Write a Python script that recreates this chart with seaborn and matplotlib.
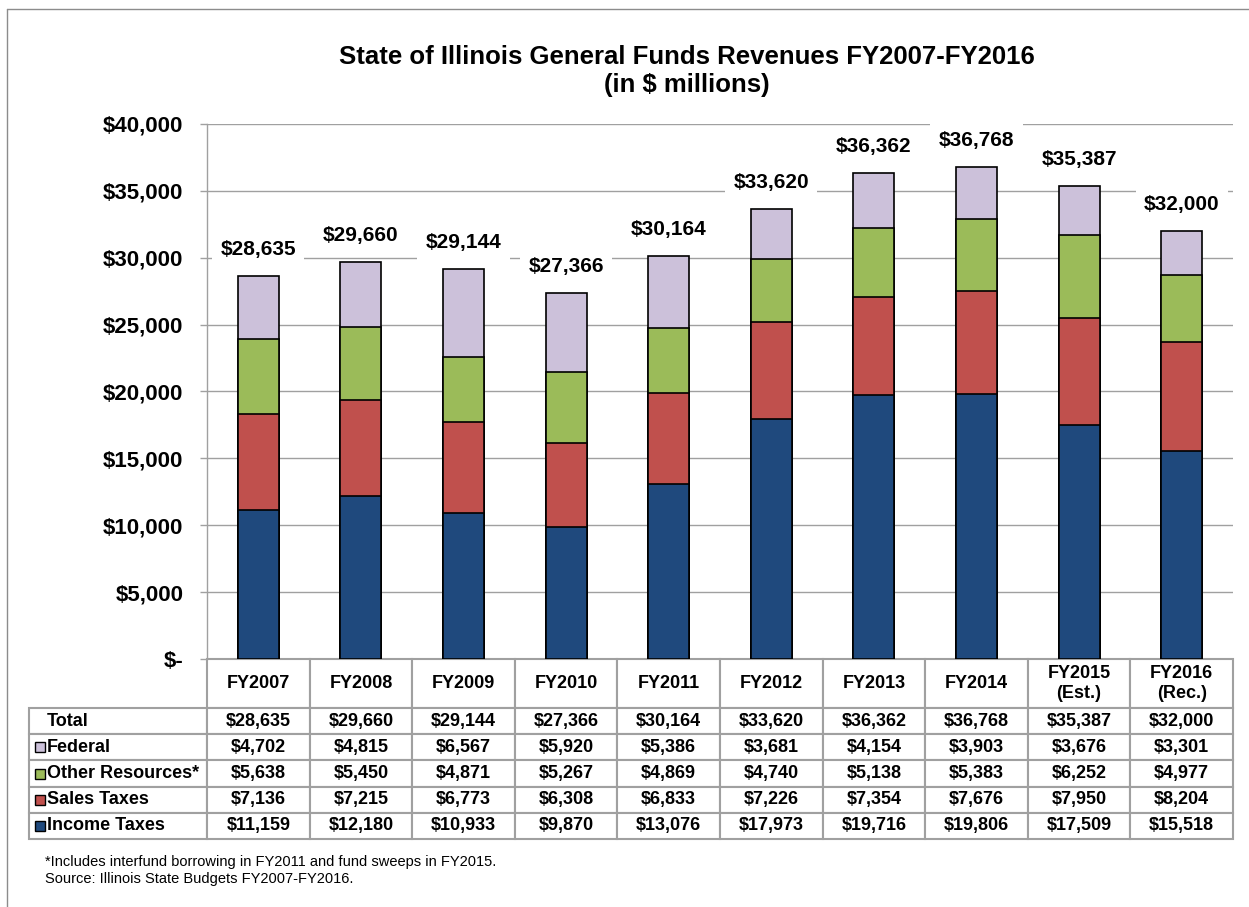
import matplotlib
matplotlib.use("Agg")
import numpy as np
import matplotlib.pyplot as plt
import seaborn as sns
from matplotlib.patches import Rectangle
from matplotlib.lines import Line2D
from matplotlib.ticker import FuncFormatter

# Data (in $ millions)
years = ["FY2007", "FY2008", "FY2009", "FY2010", "FY2011", "FY2012",
         "FY2013", "FY2014", "FY2015\n(Est.)", "FY2016\n(Rec.)"]
income_taxes = [11159, 12180, 10933, 9870, 13076, 17973, 19716, 19806, 17509, 15518]
sales_taxes = [7136, 7215, 6773, 6308, 6833, 7226, 7354, 7676, 7950, 8204]
other_resources = [5638, 5450, 4871, 5267, 4869, 4740, 5138, 5383, 6252, 4977]
federal = [4702, 4815, 6567, 5920, 5386, 3681, 4154, 3903, 3676, 3301]
totals = [28635, 29660, 29144, 27366, 30164, 33620, 36362, 36768, 35387, 32000]

row_labels = ["Total", "Federal", "Other Resources*", "Sales Taxes", "Income Taxes"]

# Colors (Office 2007 palette)
c_income = "#1F497D"
c_sales = "#C0504D"
c_other = "#9BBB59"
c_federal = "#CCC1DA"
grid_gray = "#A0A0A0"

sns.set_style("white")
plt.rcParams["font.family"] = ["Liberation Sans", "DejaVu Sans"]
plt.rcParams["text.color"] = "black"
plt.rcParams["axes.labelcolor"] = "black"
plt.rcParams["ytick.color"] = "black"
plt.rcParams["xtick.color"] = "black"

W, H = 1249, 907
fig = plt.figure(figsize=(W / 100, H / 100), dpi=100)
ax = fig.add_axes([207 / W, 1 - 659 / H, (1233 - 207) / W, (659 - 124) / H])

# Stacked bars: draw cumulative heights from the top down
inc = np.array(income_taxes)
cum_sales = inc + np.array(sales_taxes)
cum_other = cum_sales + np.array(other_resources)
cum_fed = cum_other + np.array(federal)

for heights, color in [(cum_fed, c_federal), (cum_other, c_other),
                       (cum_sales, c_sales), (inc, c_income)]:
    sns.barplot(x=years, y=heights, color=color, saturation=1, width=0.4,
                edgecolor="black", linewidth=1.2, errorbar=None, ax=ax, zorder=3)

# Total labels above bars
for i, t in enumerate(totals):
    ax.annotate(f"${t:,}", xy=(i, cum_fed[i]), xytext=(0, 15),
                textcoords="offset points", ha="center", va="baseline",
                fontsize=15, fontweight="bold", color="black", zorder=4,
                bbox=dict(boxstyle="square,pad=0.4", fc="white", ec="none"))

# Axes styling
ax.set_xlim(-0.5, len(years) - 0.5)
ax.set_ylim(0, 40000)
ax.set_yticks(range(0, 40001, 5000))
ax.yaxis.set_major_formatter(FuncFormatter(lambda v, p: "$-" if v == 0 else f"${v:,.0f}"))
ax.yaxis.grid(True, color=grid_gray, linewidth=1)
ax.set_axisbelow(True)
ax.tick_params(axis="y", left=True, length=5, width=1, color=grid_gray,
               labelcolor="black", pad=12, labelsize=16)
ax.tick_params(axis="x", bottom=False, labelbottom=False)
for lbl in ax.get_yticklabels():
    lbl.set_fontweight("bold")
ax.set_xlabel("")
ax.set_ylabel("")
for s in ["top", "right", "bottom"]:
    ax.spines[s].set_visible(False)
ax.spines["left"].set_color(grid_gray)
ax.spines["left"].set_linewidth(1)

# Data table below the chart
cell_text = [[f"${v:,}" for v in row] for row in
             [totals, federal, other_resources, sales_taxes, income_taxes]]
header_h = 49 / 535
row_h = 26.2 / 535
label_w = 178 / 1026
col_w = 1 / len(years)
table_h = header_h + row_h * len(row_labels)

tbl = ax.table(cellText=cell_text, rowLabels=row_labels, colLabels=years,
               cellLoc="center", rowLoc="left",
               colWidths=[col_w] * len(years), bbox=[0, -table_h, 1, table_h])
tbl._autoColumns = []  # keep the fixed label column width
tbl.auto_set_font_size(False)
for (r, c), cell in tbl.get_celld().items():
    cell.set_edgecolor(grid_gray)
    cell.set_linewidth(1.5)
    cell.set_height(header_h if r == 0 else row_h)
    cell.set_width(label_w if c == -1 else col_w)
    cell.get_text().set_fontsize(13)
    cell.get_text().set_fontweight("bold")
    cell.get_text().set_color("black")

# Legend keys inside the row label cells
key_colors = [c_federal, c_other, c_sales, c_income]
sq_w, sq_h = 10 / 1026, 10 / 535
for k, color in enumerate(key_colors):
    r = k + 1
    yc = -(header_h + (r + 0.5) * row_h)
    ax.add_patch(Rectangle((-label_w + 6 / 1026, yc - sq_h / 2), sq_w, sq_h,
                           transform=ax.transAxes, clip_on=False,
                           facecolor=color, edgecolor="black", linewidth=1, zorder=5))

# Title
fig.text(687 / W, 1 - 71 / H,
         "State of Illinois General Funds Revenues FY2007-FY2016\n(in $ millions)",
         ha="center", va="center", fontsize=18.5, fontweight="bold", linespacing=1.2)

# Footnotes
fig.text(45 / W, 1 - 862 / H,
         "*Includes interfund borrowing in FY2011 and fund sweeps in FY2015.",
         ha="left", va="center", fontsize=10.5)
fig.text(45 / W, 1 - 879 / H, "Source: Illinois State Budgets FY2007-FY2016.",
         ha="left", va="center", fontsize=10.5)

# Outer frame (left and top edges visible)
fig.add_artist(Line2D([7 / W, 7 / W], [0, 1 - 9 / H], color="#8C8C8C", linewidth=1))
fig.add_artist(Line2D([7 / W, 1], [1 - 9 / H, 1 - 9 / H], color="#8C8C8C", linewidth=1))

fig.savefig("out.png", dpi=100)
plt.close(fig)
